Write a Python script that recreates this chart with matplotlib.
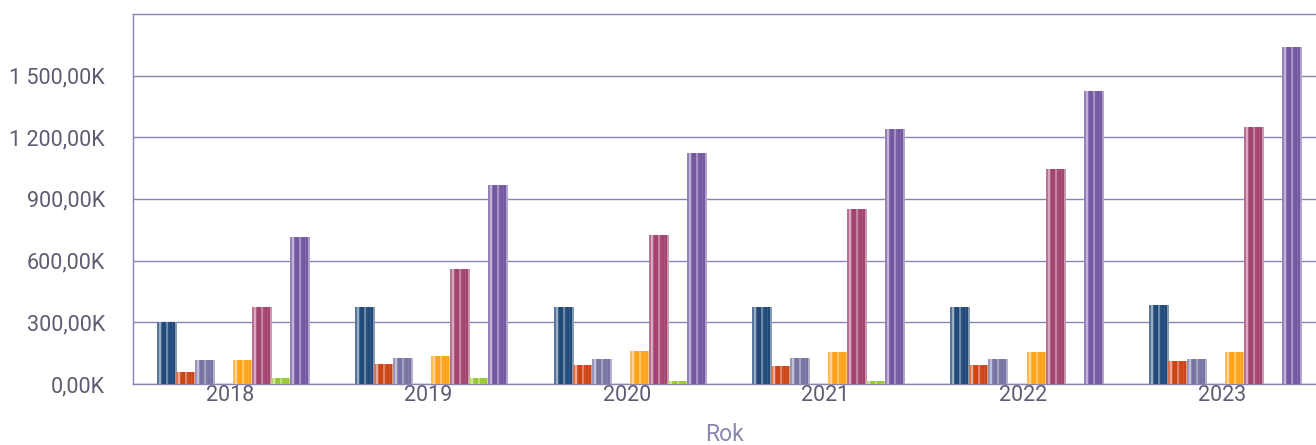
import numpy as np
import matplotlib
matplotlib.use("Agg")
from matplotlib import pyplot as plt
from matplotlib.colors import to_rgb

plt.rcParams['font.family'] = ['Roboto', 'DejaVu Sans']

# years on the x axis
years = ["2018", "2019", "2020", "2021", "2022", "2023"]

# values in thousands, one list per series
seria_1 = [300, 373, 371, 371, 371, 383]
seria_2 = [55, 97, 88, 86, 89, 107]
seria_3 = [113, 126, 117, 126, 117, 118]
seria_4 = [0, 0, 0, 0, 0, 0]
seria_5 = [113, 133, 156, 154, 154, 154]
seria_6 = [370, 556, 722, 848, 1043, 1249]
seria_7 = [29, 26, 11, 10, 0, 0]
seria_8 = [711, 966, 1121, 1237, 1422, 1638]

series = [seria_1, seria_2, seria_3, seria_4, seria_5, seria_6, seria_7, seria_8]
colors = ['#21497a', '#cc4516', '#7773a2', '#888888',
          '#ffa31a', '#a3446f', '#98c932', '#7558a2']

yticks = [0, 300, 600, 900, 1200, 1500]

grid_col = '#8886b0'
text_col = '#5c5c72'

# stripe pattern (how much white is mixed in, left to right) for the glossy look
stripes = np.array([0.25, 0.55, 0.15, 0.0, 0.0, 0.35, 0.05, 0.0, 0.1, 0.0, 0.45])


def fmt(v):
  s = "{:,.2f}".format(v)
  s = s.replace(",", " ").replace(".", ",")
  return s + "K"


fig = plt.figure(figsize=(13.16, 4.45), dpi=100)
ax = fig.add_axes([0.101, 0.137, 0.899, 0.832])

x = np.arange(len(years))
n = len(series)
w = 0.096
for i in range(n):
  offs = (i - (n - 1) / 2.0) * w
  bars = ax.bar(x + offs + 0.015, series[i], width=w, color=colors[i], zorder=3, linewidth=0)
  base = np.array(to_rgb(colors[i]))
  img = base[None, None, :] * (1 - stripes[None, :, None]) + stripes[None, :, None]
  for b in bars:
    h = b.get_height()
    if h <= 0:
      continue
    x0 = b.get_x()
    ax.imshow(img, extent=(x0, x0 + b.get_width(), 0, h), aspect='auto',
              interpolation='nearest', zorder=4)

ax.set_xlim(-0.489, 5.474)
ax.set_ylim(0, 1800)

ax.set_yticks(yticks)
ax.set_yticklabels([fmt(v) for v in yticks])
ax.set_xticks(x)
ax.set_xticklabels(years)

ax.grid(axis='y', color=grid_col, linewidth=1.0, zorder=1)
ax.tick_params(axis='both', length=0, labelsize=15.5, colors=text_col)
ax.tick_params(axis='y', pad=20)
ax.tick_params(axis='x', pad=1)

for side in ['left', 'bottom', 'top']:
  ax.spines[side].set_color(grid_col)
  ax.spines[side].set_linewidth(1.0)
ax.spines['right'].set_visible(False)

ax.set_xlabel("Rok", fontsize=16.5, color='#8a88b2', labelpad=12)

fig.savefig("out.png", dpi=100)
